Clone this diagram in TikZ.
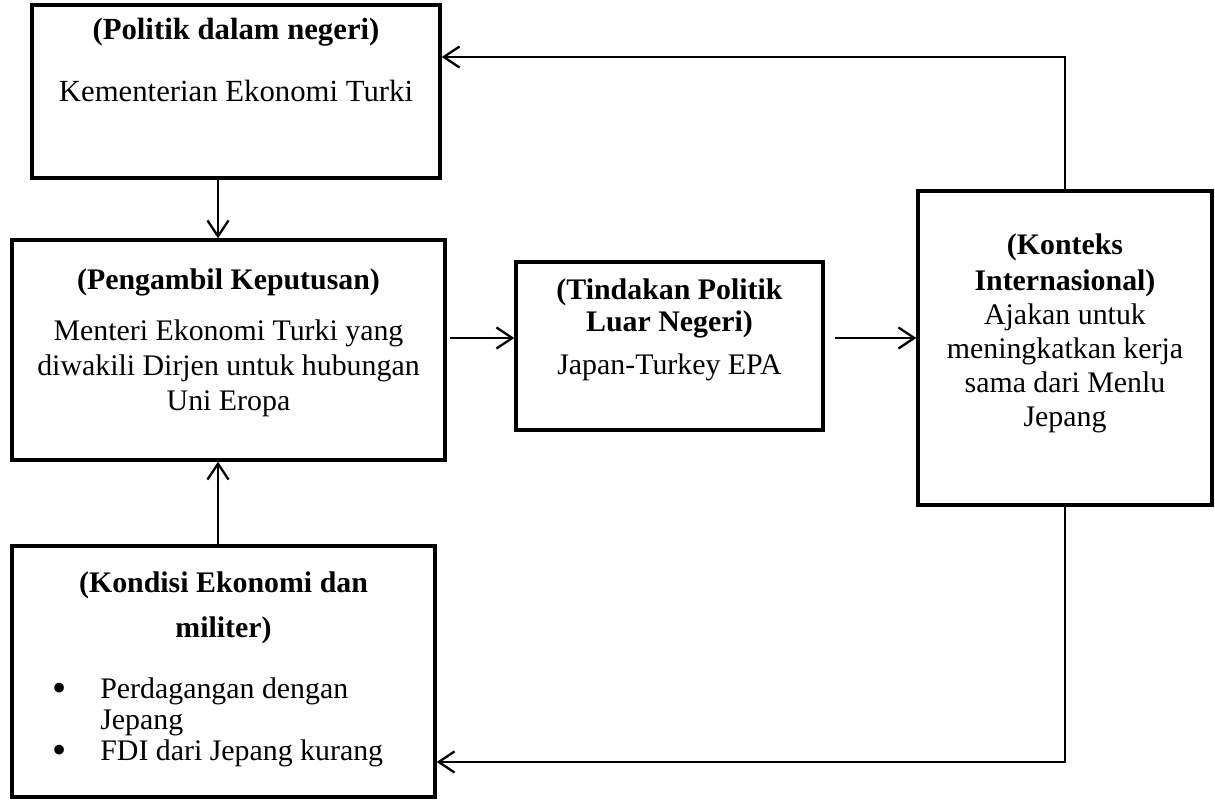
\documentclass[tikz,border=0pt]{standalone}
\usepackage{fontspec}
\setmainfont{Liberation Serif}
\usetikzlibrary{arrows.meta}

\tikzset{
  kotak/.style={draw, line width=2pt, inner sep=0pt},
  isi/.style={align=center, inner sep=0pt, anchor=north, font=\fontsize{17}{20}\selectfont},
  panah/.style={line width=1.3pt, -{Straight Barb[length=9pt,width=12pt,line width=1.3pt]}},
}
\newcommand{\butir}{\raisebox{-1.6pt}{\fontsize{23}{20}\selectfont\textbullet}}

\begin{document}
\begin{tikzpicture}[x=0.02cm,y=-0.02cm]
		\useasboundingbox (0,0) rectangle (1215,800);
		
		% kotak-kotak
		\node[kotak, minimum width=8.16cm, minimum height=3.46cm] (dalam) at (236,91.5) {};
		\node[kotak, minimum width=8.66cm, minimum height=4.4cm] (putus) at (228.5,350) {};
		\node[kotak, minimum width=6.14cm, minimum height=3.36cm] (tindak) at (669.5,346) {};
		\node[kotak, minimum width=5.88cm, minimum height=6.28cm] (konteks) at (1065,348) {};
		\node[kotak, minimum width=8.46cm, minimum height=5.02cm] (kondisi) at (223.5,671.5) {};
		
		% teks
		\node[isi, font=\fontsize{17.5}{20}\selectfont] (tdalam) at (236,18) {\textbf{(Politik dalam negeri)}\\[15pt] Kementerian Ekonomi Turki};
		\node[isi] (tputus) at (228.5,268) {\textbf{(Pengambil Keputusan)}\\[9.2pt] Menteri Ekonomi Turki yang\\ diwakili Dirjen untuk hubungan\\ Uni Eropa};
		\node[isi] (ttindak) at (669.5,278) {\textbf{(Tindakan Politik}\\[-1.8pt] \textbf{Luar Negeri)}\\[5pt] Japan-Turkey EPA};
		\node[isi, font=\fontsize{17}{19.3}\selectfont] (tkonteks) at (1065,233) {\textbf{(Konteks}\\[1.5pt] \textbf{Internasional)}\\ Ajakan untuk\\ meningkatkan kerja\\ sama dari Menlu\\ Jepang};
		\node[isi] (tkondisi) at (223.5,571) {\textbf{(Kondisi Ekonomi dan}\\[5.6pt] \textbf{militer)}};
		\node[isi, anchor=north west, align=left, font=\fontsize{17}{17.5}\selectfont] (tbutir) at (52,677)
			{\begin{tabular}{@{}p{0.96cm}@{}l@{}}
				\butir & Perdagangan dengan\\
				 & Jepang\\
				\butir & FDI dari Jepang kurang
			\end{tabular}};
		
		% panah
		\coordinate (kolom) at (218,0);
		\coordinate (baris) at (0,338);
		\coordinate (atas) at (0,57);
		\coordinate (bawah) at (0,762);
		\draw[panah] (dalam.south -| kolom) -- (putus.north -| kolom);
		\draw[panah] (kondisi.north -| kolom) -- (putus.south -| kolom);
		\draw[panah, shorten <=2pt] (putus.east |- baris) -- (tindak.west |- baris);
		\draw[panah, shorten <=0.2cm] (tindak.east |- baris) -- (konteks.west |- baris);
		\draw[panah] (konteks.north) |- (dalam.east |- atas);
		\draw[panah] (konteks.south) |- (kondisi.east |- bawah);
\end{tikzpicture}
\end{document}
